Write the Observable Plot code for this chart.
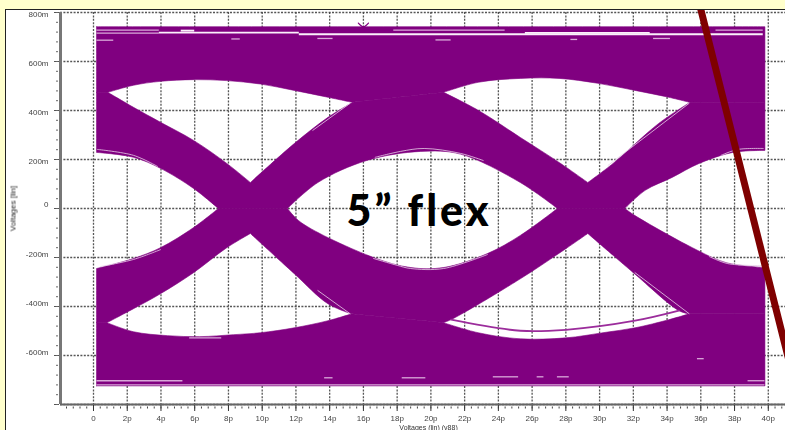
<!DOCTYPE html>
<html><head><meta charset="utf-8">
<script src="https://cdn.jsdelivr.net/npm/d3@7"></script>
<script src="https://cdn.jsdelivr.net/npm/@observablehq/plot@0.6"></script>
<style>
html,body{margin:0;padding:0;background:#ffffcc;overflow:hidden;width:785px;height:430px}
#c{position:absolute;left:6px;top:10px}
#c svg{outline:1px solid #222}
#c svg text{filter:blur(.35px);font-variant-ligatures:none}
#c svg [font-size="43"],#c svg [font-size="43"] text{letter-spacing:3px;filter:none}
</style></head><body><div id="c"></div>
<script>
// Eye-opening outlines, [time in ps, voltage in mV]
const upperLeftTop=[[0.85,474],[2.37,503],[3.97,519],[5.93,526],[7.9,522],[9.9,508],[11.9,482],[13.9,454],[15.35,433]];
const upperLeftBottom=[[0.85,474],[2.37,413],[3.97,352],[5.93,278],[7.9,184],[9.3,106],[9.3,106],[11.9,265],[13.9,372],[15.35,433]];
const upperRightTop=[[20.75,474],[22.8,515],[25.3,531],[27.6,531],[29.9,511],[32.1,482],[34.1,454],[35.35,433]];
const upperRightBottom=[[20.75,474],[22.8,401],[25.3,290],[27.6,188],[29.3,106],[29.3,106],[30.8,184],[33.5,347],[35.35,433]];
const lowerLeftTop=[[0.8,-466],[2.37,-409],[3.97,-348],[5.93,-262],[7.9,-160],[9.3,-102],[9.3,-102],[11.9,-266],[13.9,-389],[15.3,-430]];
const lowerLeftBottom=[[0.8,-466],[2.37,-503],[4.4,-519],[6.3,-523],[8.3,-515],[9.9,-507],[11.9,-487],[13.9,-458],[15.3,-430]];
const lowerRightTop=[[20.75,-466],[21.3,-450],[25.3,-287],[28,-164],[29.3,-102],[29.3,-102],[32,-262],[34.7,-417],[35.3,-430]];
const lowerRightBottom=[[20.75,-466],[22.8,-507],[25.3,-532],[28,-528],[30.2,-507],[32.1,-487],[34.1,-454],[35.3,-430]];
const halfLeftTop=[[0.18,229],[2.37,209],[3.97,164],[5.93,82],[7.4,0]];
const halfLeftBottom=[[0.18,-245],[2.37,-204],[3.97,-160],[5.93,-78],[7.4,0]];
const centerTop=[[11.5,0],[13.3,106],[16.2,196],[19.4,233],[21.75,222],[25.3,106],[27.5,0]];
const centerBottom=[[11.5,0],[12.3,-57],[16.6,-200],[18.8,-241],[20.75,-241],[23.35,-184],[25.3,-110],[27.5,0]];
const halfRightTop=[[31.5,0],[32.7,74],[34.3,127],[35.9,184],[37.9,229],[39.8,237]];
const halfRightBottom=[[31.5,0],[32.1,-29],[35.5,-160],[37.5,-221],[39.8,-241]];
const tStart=0.18, tEnd=39.8, vTop=742, vBottom=-724;

// Thin traces along the edges
const edgeTraces=[
 [[16.7,209],[18.2,233],[19.6,245],[21.75,225],[23.1,196]],
 [[16.6,-204],[18,-232],[18.8,-245],[20.75,-245],[23.35,-188]],
 [[0.24,241],[2.37,217],[3.79,172]],
 [[0.41,-237],[2.37,-208],[3.97,-168]],
 [[37.2,217],[38.2,241],[39.7,245]],
 [[36.5,-196],[37.6,-225],[39.7,-233]],
 [[13.0,319],[15.2,429]],
 [[30.5,176],[35.3,429]],
 [[13.3,-335],[15.2,-429]],
 [[32.1,-262],[35.3,-429]]
];
const stray=[[[15.7,757],[16,742],[16.3,757]]];
const eyeTrace=[[21.2,-454],[25.3,-499],[28,-495],[32.1,-458],[34.7,-417]];

// Short streaks inside the band: [t1, t2, v]
const lightStreaks=[[0.2,3.9,728],[0.2,3.9,716],[0.2,1.2,687],[8.2,8.7,692],[13.3,14.2,694],[20.3,21.2,688],[28.3,28.7,690],[33.2,34.2,694],
 [17.8,24.4,728],[36.9,39.7,728],[0.2,5.3,-703],[5.7,7.6,-528],[13.7,14.2,-691],[18.3,19.7,-691],[23.7,25.2,-687],[26.3,26.7,-687],[27.5,28.2,-687],[35.8,36.2,-613],[38.8,39.8,-703],[0.2,39.8,-720]];
const whiteStreaks=[[3.9,12.2,718],[5.2,6,726],[12.2,39.7,711],[25.6,33,717]];

const slash=[[35.74,884],[41.3,-642]];
const majorT=d3.range(0,41,2);
const minorT=d3.range(-1.6,41,0.4);
const majorV=d3.range(-800,801,200);
const minorV=d3.range(-800,801,40);
const posV=[200,400,600,800], zeroV=[0], negV=[-200,-400,-600];
const yTitle="Voltages [lin]", xTitle="Voltages (lin) (v88)", note="5” flex";

const rev=a=>a.slice().reverse();
const ends=a=>[a[0],...a,a[a.length-1]];
const rends=a=>ends(rev(a));
const topBand=[[tStart,vTop],[tStart,vTop],[tEnd,vTop],[tEnd,vTop],[tEnd,433],[tEnd,433],...rends(upperRightTop),...rends(upperLeftTop),[tStart,474],[tStart,474],[tStart,vTop],[tStart,vTop]];
const midUpper=[[tStart,474],[tStart,474],...ends(upperLeftBottom),...ends(upperRightBottom),[tEnd,433],[tEnd,433],...rends(halfRightTop),...rends(centerTop),...rends(halfLeftTop),[tStart,474],[tStart,474]];
const midLower=[[tStart,-466],[tStart,-466],...ends(lowerLeftTop),...ends(lowerRightTop),[tEnd,-430],[tEnd,-430],...rends(halfRightBottom),...rends(centerBottom),...rends(halfLeftBottom),[tStart,-466],[tStart,-466]];
const bottomBand=[[tStart,vBottom],[tStart,vBottom],[tEnd,vBottom],[tEnd,vBottom],[tEnd,-430],[tEnd,-430],...rends(lowerRightBottom),...rends(lowerLeftBottom),[tStart,-466],[tStart,-466],[tStart,vBottom],[tStart,vBottom]];
const purple="#800080";
const poly=p=>Plot.line(p,{x:d=>d[0],y:d=>d[1],fill:purple,stroke:purple,strokeWidth:0.6,curve:"catmull-rom"});
const trace=(p,c,w)=>Plot.line(p,{x:d=>d[0],y:d=>d[1],stroke:c,strokeWidth:w,curve:"catmull-rom"});
const fmt=d=>d===0?"0":d+"m";

const chart=Plot.plot({
 width:779,height:420,marginLeft:54,marginRight:0,marginTop:2,marginBottom:26,
 style:{background:"#fff",fontFamily:"Liberation Sans",fontSize:"8px",color:"#444"},
 x:{domain:[-1.956,41.02],axis:null},
 y:{domain:[-800,800],axis:null},
 marks:[
  Plot.gridX(majorT,{stroke:"#444",strokeOpacity:.9,strokeDasharray:"2,1.4",strokeWidth:1.3}),
  Plot.gridY(majorV,{stroke:"#444",strokeOpacity:.9,strokeDasharray:"2,1.4",strokeWidth:1.3}),
  poly(topBand),poly(midUpper),poly(midLower),poly(bottomBand),
  ...edgeTraces.map(p=>trace(p,"#e8cfe8",.8)),
  ...stray.map(p=>trace(p,purple,1.2)),
  trace(eyeTrace,"#9b2c9b",1.8),
  Plot.ruleY(lightStreaks,{x1:d=>d[0],x2:d=>d[1],y:d=>d[2],stroke:"#d9a9d9",strokeWidth:1.3}),
  Plot.ruleY(whiteStreaks,{x1:d=>d[0],x2:d=>d[1],y:d=>d[2],stroke:"#fbf0fb",strokeWidth:1.9}),
  Plot.ruleX([-1.956],{stroke:"#777",strokeWidth:3}),
  Plot.ruleY([-800],{stroke:"#666",strokeWidth:2}),
  Plot.axisY(majorV,{tickSize:5,dx:-1,text:null,stroke:"#555"}),
  Plot.axisY(minorV,{tickSize:2,dx:-2,text:null,stroke:"#666"}),
  Plot.axisY({ticks:posV,tickSize:0,tickPadding:12,tickFormat:fmt,dy:1.5,fontSize:8,label:null}),
  Plot.axisY({ticks:zeroV,tickSize:0,tickPadding:12,tickFormat:fmt,dy:-4,fontSize:8,label:null}),
  Plot.axisY({ticks:negV,tickSize:0,tickPadding:12,tickFormat:fmt,dy:-3,fontSize:8,label:null}),
  Plot.axisX(minorT,{tickSize:2,dy:2.5,text:null,stroke:"#444"}),
  Plot.axisX({ticks:majorT,tickSize:6,dy:1,tickPadding:4,tickFormat:d=>d===0?"0":d+"p",fontSize:8,label:null,stroke:"#333"}),
  Plot.text([yTitle],{x:-4.8,y:0,rotate:-90,fontSize:8,fill:"#222"}),
  Plot.text([xTitle],{x:19.86,y:-893,fontSize:7,fill:"#333"}),
  Plot.text([note],{x:19.3,y:-16,fontFamily:"Lato",fontWeight:900,fontSize:43,fill:"#000"}),
  trace(slash,"#7f0000",7)
 ]
});
document.getElementById("c").append(chart);
</script></body></html>
